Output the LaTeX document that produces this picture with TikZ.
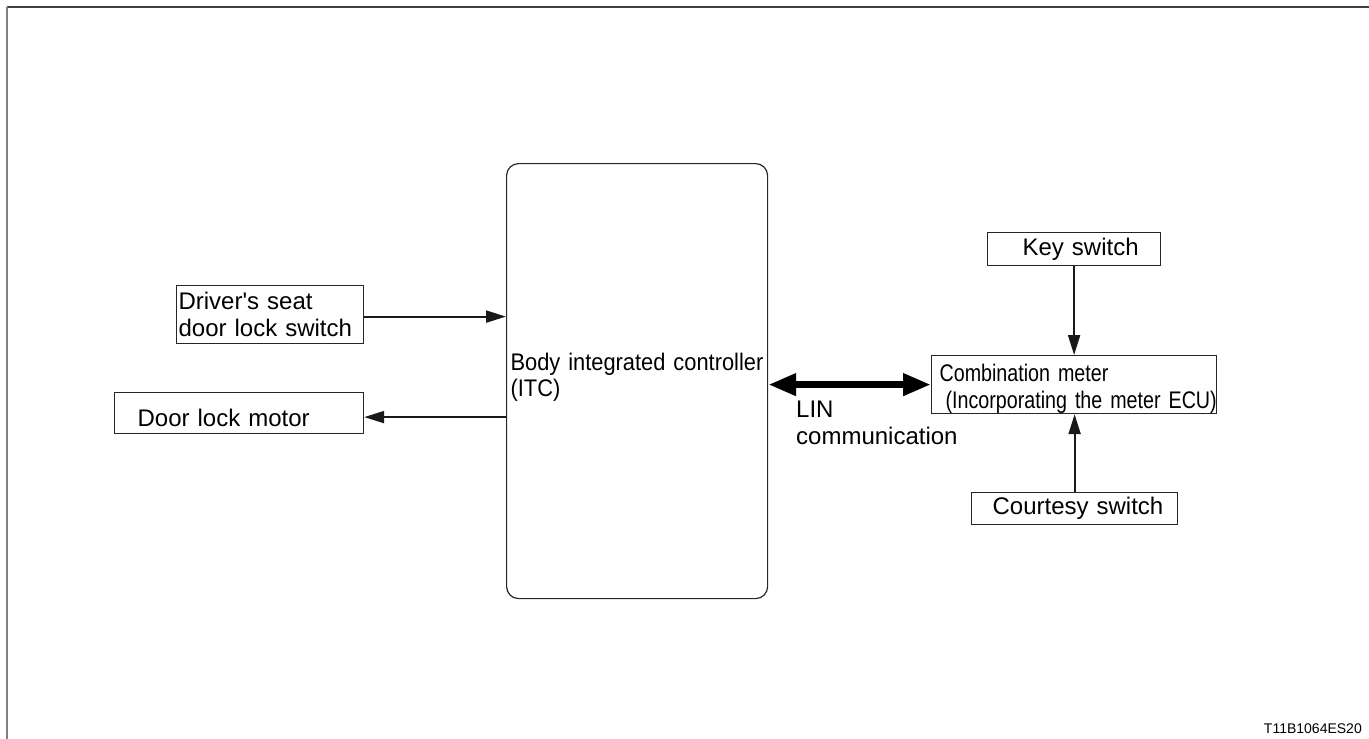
\documentclass[tikz,border=0pt]{standalone}
\usepackage{fontspec}
\setmainfont{Liberation Sans}[Ligatures=TeXOff]
\newfontfamily\narrowsans{Liberation Sans}[FakeStretch=0.82, Ligatures=TeXOff]
\newfontfamily\semisans{Liberation Sans}[FakeStretch=0.91, Ligatures=TeXOff]
\usetikzlibrary{arrows.meta}
\newcommand\labelsize{\fontsize{24}{27}\selectfont}
\begin{document}
\begin{tikzpicture}[x=1pt,y=-1pt,
  box/.style={draw=black!85, line width=1.2pt, inner xsep=0pt, inner ysep=0pt,
    anchor=north west, align=left, font=\labelsize},
  sig/.style={line width=2pt, draw=black!90,
    -{Triangle[length=20pt,width=12pt]}},
  lin/.style={line width=7pt, draw=black,
    {Triangle[length=28pt,width=21pt]}-{Triangle[length=28pt,width=21pt]}},
  frame/.style={line width=2pt}]
\useasboundingbox (0,0) rectangle (1369,739);

% outer frame: top and left edges only
\draw[frame, draw=black!75] (7,7) -- (1369,7);
\draw[frame, draw=black!50] (7,7) -- (7,739);

% controller in the middle
\node[draw=black!85, line width=1.2pt, rounded corners=12pt, anchor=north west,
  minimum height=435pt, text width=253pt, inner xsep=4pt, inner ysep=0pt,
  align=left, font={\semisans\fontsize{24}{26}\selectfont}]
  (itc) at (506,163) {Body integrated controller\\(ITC)\\[-14pt]\mbox{}};

% left side inputs and outputs
\node[box, text width=187pt, minimum height=58pt] (drv) at (176,285)
  {\hspace*{2pt}Driver's seat\\\hspace*{2pt}door lock switch};
\node[box, text width=249pt, minimum height=41pt] (dlm) at (114,392)
  {\hspace*{23pt}\raisebox{-5pt}[\height][\depth]{Door lock motor}};

% right side: meter and its switches
\node[box, text width=173pt, minimum height=33pt] (key) at (987,232)
  {\hspace*{35pt}Key switch};
\node[box, text width=285pt, minimum height=58pt, text height=25.5pt,
  font={\narrowsans\fontsize{24}{27.5}\selectfont}] (cm) at (931,355)
  {\hspace*{8pt}\mbox{Combination meter}\\\hspace*{14pt}\mbox{(Incorporating the meter ECU)}};
\node[box, text width=206pt, minimum height=32pt] (cts) at (971,492)
  {\hspace*{21pt}Courtesy switch};

% connectors
\draw[sig] ([yshift=-2pt]drv.east) -- ([yshift=-2pt]drv.east -| itc.west);
\draw[sig] ([yshift=-4pt]dlm.east -| itc.west) -- ([yshift=-4pt]dlm.east);
\draw[lin] (cm.west -| itc.east) -- (cm.west);
\draw[sig] (key.south) -- (key.south |- cm.north);
\draw[sig] (cts.north) -- (cts.north |- cm.south);

% bus label
\node[anchor=north west, inner sep=0pt, align=left, font=\labelsize]
  (linlbl) at (796,401) {LIN\\communication};

% drawing number
\node[anchor=base east, inner sep=0pt, font=\fontsize{14}{16}\selectfont]
  (dwgno) at (1362,733) {T11B1064ES20};
\end{tikzpicture}
\end{document}
